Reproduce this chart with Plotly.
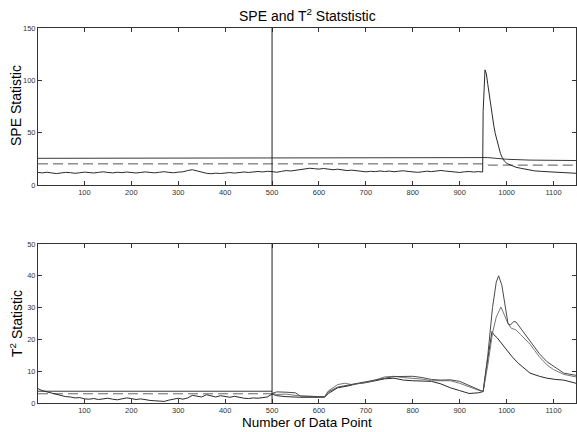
import plotly.graph_objects as go

# ---------------- data ----------------
x_ticks = [100, 200, 300, 400, 500, 600, 700, 800, 900, 1000, 1100]
spe_y_ticks = [0, 50, 100, 150]
t2_y_ticks = [0, 10, 20, 30, 40, 50]

spe_x = [1, 10, 20, 30, 40, 50, 60, 70, 80, 90, 100, 110, 120, 130, 140, 150, 160, 170, 180, 190,
         200, 210, 220, 230, 240, 250, 260, 270, 280, 290, 300, 310, 320, 330, 340, 350, 360, 370, 380, 390,
         400, 410, 420, 430, 440, 450, 460, 470, 480, 490, 500, 510, 520, 530, 540, 550, 560, 570, 580, 590,
         600, 610, 620, 630, 640, 650, 660, 670, 680, 690, 700, 710, 720, 730, 740, 750, 760, 770, 780, 790,
         800, 810, 820, 830, 840, 850, 860, 870, 880, 890, 900, 910, 920, 930, 940, 949, 950, 954, 957, 960,
         963, 966, 970, 973, 976, 980, 984, 987, 991, 995, 1001, 1010, 1020, 1030, 1045, 1060, 1075, 1087,
         1100, 1115, 1130, 1148]
spe_y = [12.0, 11.6, 12.2, 11.4, 10.9, 11.5, 12.1, 11.8, 11.2, 11.7, 12.3, 11.9, 11.5, 12.1, 12.6, 12.0,
         11.6, 12.2, 11.8, 12.4, 11.9, 11.5, 12.0, 12.5, 12.0, 11.6, 12.2, 12.7, 12.1, 11.7, 12.3, 12.6,
         13.8, 14.6, 13.5, 12.2, 11.2, 10.8, 11.3, 11.0, 11.5, 11.9, 11.4, 12.0, 12.4, 12.0, 12.6, 12.9,
         12.5, 13.1, 12.8, 12.2, 13.0, 13.8, 13.4, 14.2, 14.8, 15.4, 16.0, 15.6, 15.2, 15.8, 14.9, 14.6,
         15.1, 14.3, 13.8, 14.2, 13.5, 13.0, 12.6, 13.1, 12.8, 13.4, 12.9, 13.3, 12.7, 13.2, 13.6, 13.0,
         12.5, 12.1, 12.6, 13.2, 12.8, 13.4, 13.9, 13.3, 12.7, 12.2, 12.0, 12.6, 12.9, 12.4, 12.8, 12.4,
         70.0, 110.0, 106.0, 96.0, 86.0, 76.0, 64.0, 56.0, 49.0, 41.0, 34.0, 30.0, 26.0, 23.0, 20.5, 18.5,
         17.0, 16.0, 14.5, 13.5, 13.0, 12.7, 12.2, 11.5, 11.3, 11.2]

spe_lim99_x = [1, 560, 560, 960, 1000, 1050, 1148]
spe_lim99_y = [25.5, 25.5, 26.2, 26.2, 24.6, 23.8, 23.4]
spe_lim95_x = [1, 955, 962, 1148]
spe_lim95_y = [20.2, 20.2, 19.0, 19.0]

t2_x = [1, 10, 20, 30, 40, 50, 60, 70, 80, 90, 100, 110, 120, 130, 140, 150, 160, 170, 180, 190,
        200, 210, 220, 230, 240, 250, 260, 270, 280, 290, 300, 310, 320, 330, 340, 350, 360, 370, 380, 390,
        400, 410, 420, 430, 440, 450, 460, 470, 480, 490, 500]
t2_y = [4.5, 3.9, 3.5, 3.1, 2.7, 2.3, 2.0, 1.9, 1.6, 1.7, 1.3, 1.2, 1.4, 1.1, 1.3, 1.5, 1.2, 1.0, 1.3, 1.6,
        1.4, 1.1, 1.3, 1.0, 0.8, 0.7, 0.6, 0.5, 0.9, 1.3, 1.5, 1.2, 1.6, 2.4, 2.1, 1.9, 2.6, 2.2, 1.9, 2.3,
        2.0, 1.8, 2.1, 1.7, 1.5, 1.4, 1.6, 1.5, 1.7, 1.9, 2.8]

t2_lim_x = [1, 500]
t2_lim99_y = [3.7, 3.7]
t2_lim95_y = [2.9, 2.9]

ta_x = [500, 510, 530, 550, 560, 580, 600, 612, 620, 640, 660, 680, 700, 720, 740, 760, 780, 800, 820, 840,
        860, 880, 900, 920, 940, 950, 960, 970, 978, 983, 990, 997, 1003, 1008, 1015, 1020, 1030, 1040,
        1050, 1060, 1070, 1086, 1100, 1122, 1148]
ta_y = [3.0, 3.5, 3.4, 3.2, 2.2, 2.0, 2.0, 2.0, 3.5, 5.0, 5.6, 6.0, 6.6, 7.2, 7.8, 8.3, 8.4, 8.4, 8.0, 7.4,
        7.2, 7.3, 6.8, 5.5, 4.0, 3.6, 15.0, 30.0, 38.0, 40.0, 37.0, 30.0, 25.0, 24.5, 25.6, 25.5, 23.5, 21.5,
        19.8, 17.5, 15.5, 13.0, 11.5, 9.4, 8.7]

tb_x = [500, 510, 530, 560, 600, 612, 620, 640, 655, 670, 700, 720, 740, 760, 780, 800, 820, 840, 860, 880,
        900, 920, 940, 950, 960, 970, 978, 988, 995, 1003, 1010, 1020, 1030, 1040, 1050, 1060, 1070, 1086,
        1100, 1122, 1148]
tb_y = [3.0, 2.7, 2.8, 2.2, 2.0, 1.9, 3.8, 5.8, 6.2, 5.8, 6.5, 7.2, 8.2, 8.4, 8.0, 7.8, 7.5, 7.0, 7.0, 7.0,
        6.2, 5.0, 4.0, 3.6, 12.0, 22.0, 27.0, 30.2, 28.0, 25.0, 23.5, 23.0, 21.5, 20.0, 18.5, 16.5, 14.5,
        12.0, 10.5, 9.0, 8.2]

tc_x = [500, 510, 530, 560, 600, 612, 620, 640, 660, 680, 700, 720, 740, 760, 780, 800, 820, 840, 860, 880,
        900, 920, 940, 950, 960, 969, 972, 980, 990, 1000, 1012, 1025, 1040, 1050, 1070, 1086, 1105, 1122,
        1148]
tc_y = [2.8, 2.3, 2.0, 1.8, 1.8, 1.8, 3.0, 4.8, 5.3, 6.0, 6.4, 7.0, 7.6, 7.8, 7.2, 7.0, 6.9, 6.8, 6.0, 4.8,
        3.9, 3.0, 3.2, 3.6, 14.0, 22.5, 21.6, 20.5, 18.6, 16.7, 14.5, 12.5, 10.5, 9.4, 8.4, 7.8, 7.4, 7.2,
        6.2]

# ---------------- figure ----------------
fig = go.Figure()

def line(x, y, color, dash="solid", xa="x", ya="y", width=1):
    fig.add_trace(go.Scatter(x=x, y=y, mode="lines", xaxis=xa, yaxis=ya,
                             line=dict(color=color, width=width, dash=dash),
                             showlegend=False, hoverinfo="skip"))

line(spe_lim99_x, spe_lim99_y, "#3a3a3a")
line(spe_lim95_x, spe_lim95_y, "#555555", dash="10px,5px")
line(spe_x, spe_y, "#2a2a2a")

line(t2_lim_x, t2_lim99_y, "#3a3a3a", xa="x2", ya="y2")
line(t2_lim_x, t2_lim95_y, "#666666", dash="10px,5px", xa="x2", ya="y2")
line(t2_x, t2_y, "#2a2a2a", xa="x2", ya="y2")
line(tc_x, tc_y, "#2a2a2a", xa="x2", ya="y2")
line(tb_x, tb_y, "#777777", xa="x2", ya="y2")
line(ta_x, ta_y, "#4a4a4a", xa="x2", ya="y2")

tickfont = dict(family="Arial", size=7.5, color="#333333")
titlefont = dict(family="Arial", size=14, color="#000000")
xtitlefont = dict(family="Arial", size=13.5, color="#000000")

xcommon = dict(range=[1, 1148], tickvals=x_ticks, ticks="inside", ticklen=4, tickcolor="#333",
               showline=True, linecolor="#333", linewidth=1, mirror="ticks", showgrid=False,
               zeroline=False, tickfont=tickfont, automargin=False)
ycommon = dict(ticks="inside", ticklen=4, tickcolor="#333", showline=True, linecolor="#333",
               linewidth=1, mirror="ticks", showgrid=False, zeroline=False, tickfont=tickfont,
               automargin=False)

fig.update_layout(
    width=577, height=432,
    margin=dict(l=38, r=1, t=28, b=29, autoexpand=False),
    paper_bgcolor="white", plot_bgcolor="white",
    xaxis=dict(domain=[0, 1], anchor="y", **xcommon),
    yaxis=dict(domain=[0.5813, 1], anchor="x", range=[0, 150], tickvals=spe_y_ticks, **ycommon),
    xaxis2=dict(domain=[0, 1], anchor="y2", **xcommon),
    yaxis2=dict(domain=[0, 0.424], anchor="x2", range=[0, 50], tickvals=t2_y_ticks, **ycommon),
    shapes=[
        dict(type="line", xref="x", yref="y domain", x0=500, x1=500, y0=0, y1=1,
             line=dict(color="#222", width=1)),
        dict(type="line", xref="x2", yref="y2 domain", x0=500, x1=500, y0=0, y1=1,
             line=dict(color="#222", width=1)),
    ],
    annotations=[
        dict(text="SPE and T<sup>2</sup> Statstistic", xref="paper", yref="paper",
             x=0.5, y=(403 - 15) / 375, xanchor="center", yanchor="middle",
             showarrow=False, font=titlefont),
        dict(text="SPE Statistic", xref="paper", yref="paper", textangle=-90,
             x=(16 - 38) / 538, y=(403 - 106) / 375, xanchor="center", yanchor="middle",
             showarrow=False, font=titlefont),
        dict(text="T<sup>2</sup> Statistic", xref="paper", yref="paper", textangle=-90,
             x=(16 - 38) / 538, y=(403 - 324) / 375, xanchor="center", yanchor="middle",
             showarrow=False, font=titlefont),
        dict(text="Number of Data Point", xref="paper", yref="paper",
             x=0.5, y=(403 - 423) / 375, xanchor="center", yanchor="middle",
             showarrow=False, font=xtitlefont),
    ],
)

fig.write_html("out.html", config={"displayModeBar": False},
               post_script="document.body.style.margin='0';document.body.style.overflow='hidden';")
